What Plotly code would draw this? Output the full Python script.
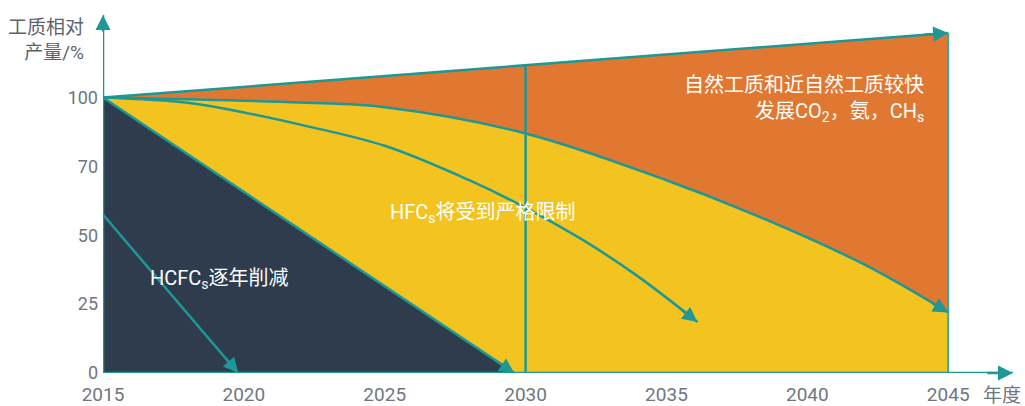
import numpy as np
import plotly.graph_objects as go

# ---------------- data ----------------
top_years = [2015, 2045]
top_values = [100, 123.5]

upper_years = [2015, 2018, 2022, 2025, 2030, 2035, 2038, 2042, 2045]
upper_values = [100, 99.4, 98.2, 96.5, 87, 70, 58, 39.5, 22]

inner_years = [2015, 2018, 2020, 2022, 2025, 2028, 2030, 2032, 2034, 2036.1]
inner_values = [100, 98.1, 94.6, 90.2, 82.5, 70, 60, 48.5, 35, 18.5]

hcfc_years = [2015, 2029.6]
hcfc_values = [100, 0]

hcfc_arrow_years = [2015, 2019.8]
hcfc_arrow_values = [57.5, 0]

divider_year = 2030
end_year = 2045
start_year = 2015
x_axis_end = 2047.3
y_axis_end = 130

x_ticks = [2015, 2020, 2025, 2030, 2035, 2040, 2045]
y_tick_vals = [0, 25, 50, 75, 100]
y_tick_text = ["0", "25", "50", "70", "100"]

# ---------------- styles ----------------
TEAL = "#1d9896"
ORANGE = "#e07832"
YELLOW = "#f3c420"
DARK = "#2e3c4e"
TICK = "#6e7780"
FONT = "Roboto, 'Noto Sans CJK SC', sans-serif"
LW = 2.5

fig = go.Figure()

# fills
fig.add_trace(go.Scatter(x=upper_years, y=upper_values, mode="lines",
                         line=dict(width=0, shape="spline", smoothing=1),
                         fill="tozeroy", fillcolor=YELLOW, hoverinfo="skip"))
fig.add_trace(go.Scatter(x=top_years, y=top_values, mode="lines",
                         line=dict(width=0), fill="tonexty", fillcolor=ORANGE,
                         hoverinfo="skip"))
fig.add_trace(go.Scatter(x=hcfc_years, y=hcfc_values, mode="lines",
                         line=dict(width=0), fill="tozeroy", fillcolor=DARK,
                         hoverinfo="skip"))


def teal_line(xs, ys, spline=False, width=LW, color=TEAL):
    line = dict(width=width, color=color)
    if spline:
        line.update(shape="spline", smoothing=1)
    fig.add_trace(go.Scatter(x=xs, y=ys, mode="lines", line=line,
                             cliponaxis=False, hoverinfo="skip"))


top_at_divider = float(np.interp(divider_year, top_years, top_values))
top_at_end = float(np.interp(end_year, top_years, top_values))

teal_line(top_years, top_values)
teal_line(upper_years, upper_values, spline=True)
teal_line(inner_years, inner_values, spline=True)
teal_line(hcfc_years, hcfc_values)
teal_line(hcfc_arrow_years, hcfc_arrow_values)
teal_line([divider_year, divider_year], [0, top_at_divider])
teal_line([end_year, end_year], [0, top_at_end], width=2, color="#3aa7a4")
teal_line([start_year, x_axis_end], [0, 0])
teal_line([start_year, start_year], [0, y_axis_end])

annotations = []


def head(xs, ys, frac=0.12):
    x1, y1 = xs[-1], ys[-1]
    x0, y0 = xs[-2], ys[-2]
    xt = x1 - (x1 - x0) * frac
    yt = y1 - (y1 - y0) * frac
    annotations.append(dict(x=x1, y=y1, ax=xt, ay=yt, xref="x", yref="y",
                            axref="x", ayref="y", text="", showarrow=True,
                            arrowhead=2, arrowsize=1.2, arrowwidth=LW,
                            arrowcolor=TEAL, standoff=0))


head(top_years, top_values, 0.03)
head(upper_years, upper_values, 0.2)
head(inner_years, inner_values, 0.3)
head(hcfc_years, hcfc_values, 0.05)
head(hcfc_arrow_years, hcfc_arrow_values, 0.1)
head([start_year, x_axis_end], [0, 0], 0.03)
head([start_year, start_year], [0, y_axis_end], 0.05)

white = dict(family=FONT, size=20, color="white")
annotations += [
    dict(x=2044.2, y=104.6, xref="x", yref="y", text="自然工质和近自然工质较快",
         showarrow=False, xanchor="right", yanchor="middle", font=white),
    dict(x=2044.2, y=94.8, xref="x", yref="y",
         text="发展CO<sub>2</sub>，氨，CH<sub>s</sub>",
         showarrow=False, xanchor="right", yanchor="middle", font=white),
    dict(x=2025.1, y=58, xref="x", yref="y", text="HFC<sub>s</sub>将受到严格限制",
         showarrow=False, xanchor="left", yanchor="middle", font=white),
    dict(x=2016.6, y=34.1, xref="x", yref="y", text="HCFC<sub>s</sub>逐年削减",
         showarrow=False, xanchor="left", yanchor="middle", font=white),
    dict(x=0, y=1, xref="paper", yref="paper", text="工质相对<br>产量/%",
         showarrow=False, xanchor="right", yanchor="top", xshift=-17, yshift=1,
         align="right", font=dict(family=FONT, size=19, color="#5b636b")),
    dict(x=1, y=0, xref="paper", yref="paper", text="年度",
         showarrow=False, xanchor="right", yanchor="top", xshift=10, yshift=-9,
         font=dict(family=FONT, size=19, color=TICK)),
]

fig.update_layout(
    width=1025, height=406,
    margin=dict(l=103, r=12, t=15, b=33, autoexpand=False),
    paper_bgcolor="white", plot_bgcolor="white",
    showlegend=False,
    font=dict(family=FONT),
    annotations=annotations,
    xaxis=dict(range=[start_year, x_axis_end], tickvals=x_ticks,
               showgrid=False, zeroline=False, showline=False, ticks="",
               tickfont=dict(size=19, color=TICK), ticklabelstandoff=8,
               automargin=False, fixedrange=True),
    yaxis=dict(range=[0, y_axis_end], tickvals=y_tick_vals, ticktext=y_tick_text,
               showgrid=False, zeroline=False, showline=False, ticks="",
               tickfont=dict(size=18, color=TICK), ticklabelstandoff=4,
               automargin=False, fixedrange=True),
)

fig.write_html(
    "out.html",
    config={"displayModeBar": False, "staticPlot": True},
    post_script="document.body.style.margin='0';document.body.style.overflow='hidden';",
)
